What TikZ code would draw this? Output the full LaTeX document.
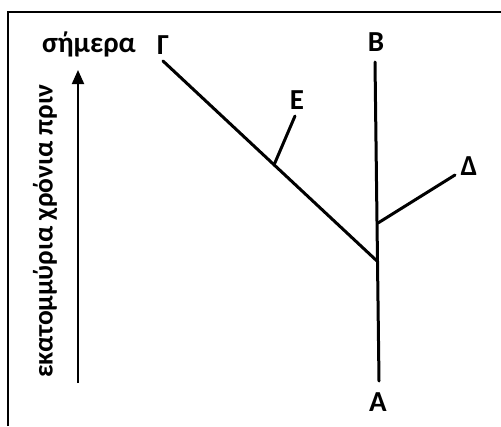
\documentclass[tikz,border=0pt]{standalone}
\usepackage{fontspec}
\setmainfont{Carlito}
\usetikzlibrary{arrows.meta}
\tikzset{
  lbl/.style={font=\fontsize{29}{29}\selectfont\bfseries, inner sep=0pt, anchor=center},
  axtxt/.style={font=\fontsize{27.5}{27.5}\selectfont\bfseries, inner sep=0pt, text=black},
  branch/.style={line width=3pt, line cap=round},
  frame/.style={line width=2pt},
  axis/.style={line width=2pt, -{Triangle[length=14pt,width=12pt]}}
}
\begin{document}
\begin{tikzpicture}[x=1pt,y=-1pt]
\useasboundingbox (0,0) rectangle (501,426);
\draw[frame] (7.5,426) -- (7.5,11.5) -- (501,11.5);
% texts
\node[axtxt, font=\fontsize{29}{29}\selectfont\bfseries] (today) at (89,44) {σήμερα};
\node[axtxt, rotate=90] (mya) at (45,231) {εκατομμύρια χρόνια πριν};
\coordinate (axb) at (78,383);
\coordinate (axt) at (78,70);
\draw[axis] (axb) -- (axt);
% labels
\node[lbl] (G) at (163,45) {Γ};
\node[lbl] (B) at (376,42) {Β};
\node[lbl] (E) at (297,100) {Ε};
\node[lbl] (D) at (469,166) {Δ};
\node[lbl] (A) at (378,402) {Α};
% tree
\coordinate (gtop) at (163,61);
\coordinate (btop) at (375,62);
\coordinate (abot) at (379,381);
\coordinate (j1) at (377,261);
\coordinate (j2) at (378,223);
\coordinate (jE) at (274,165);
\coordinate (etop) at (295,116);
\coordinate (dtop) at (455,175);
\draw[branch] (btop) -- (abot);
\draw[branch] (gtop) -- (j1);
\draw[branch] (jE) -- (etop);
\draw[branch] (j2) -- (dtop);
\end{tikzpicture}
\end{document}
